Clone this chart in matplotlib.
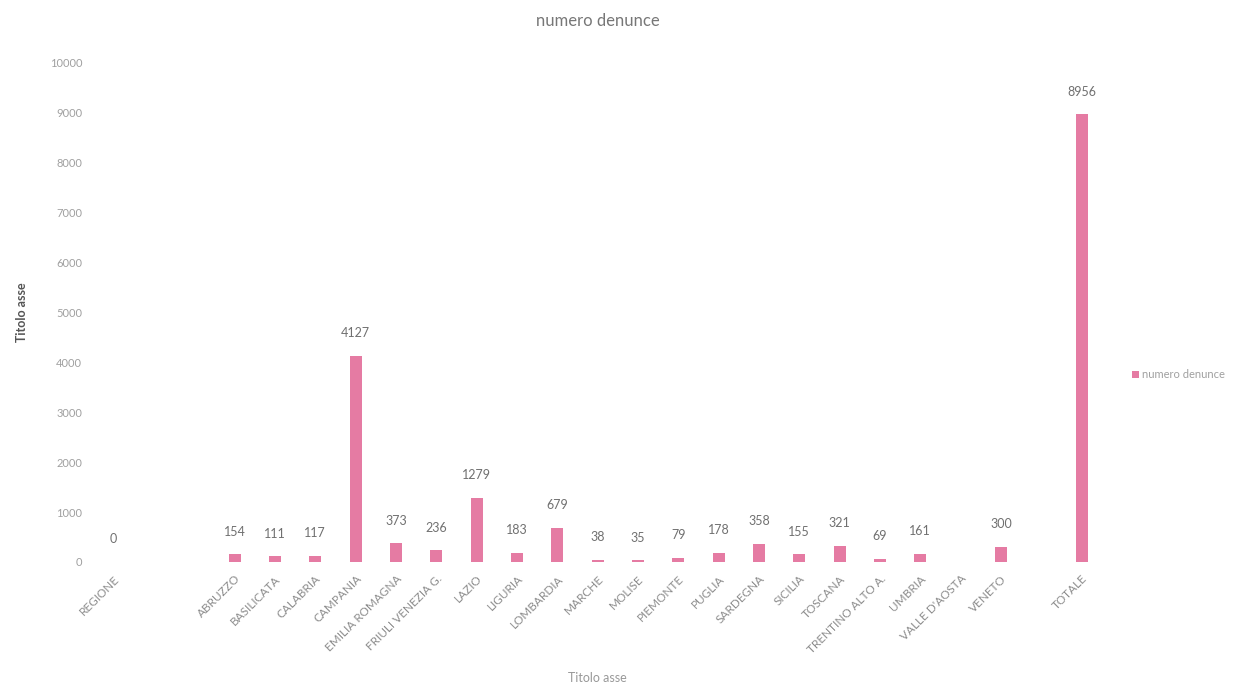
import numpy as np
import matplotlib.pyplot as plt

plt.rcParams['font.family'] = ['Lato', 'DejaVu Sans']

# categories as on the axis (blank slots kept as empty labels)
regioni = ["REGIONE", "", "", "ABRUZZO", "BASILICATA", "CALABRIA", "CAMPANIA",
           "EMILIA ROMAGNA", "FRIULI VENEZIA G.", "LAZIO", "LIGURIA", "LOMBARDIA",
           "MARCHE", "MOLISE", "PIEMONTE", "PUGLIA", "SARDEGNA", "SICILIA",
           "TOSCANA", "TRENTINO ALTO A.", "UMBRIA", "VALLE D'AOSTA", "VENETO",
           "", "TOTALE"]
denunce = [0, None, None, 154, 111, 117, 4127,
           373, 236, 1279, 183, 679,
           38, 35, 79, 178, 358, 155,
           321, 69, 161, None, 300,
           None, 8956]

yticks = [0, 1000, 2000, 3000, 4000, 5000, 6000, 7000, 8000, 9000, 10000]

PINK = "#e57ba3"
GREY = "#8c8c8c"

x = np.arange(len(regioni))
vals = np.array([np.nan if v is None else v for v in denunce], dtype=float)

fig = plt.figure(figsize=(12.45, 6.99), dpi=100)
ax = fig.add_axes([0.075, 0.196, 0.81, 0.715])

bars = ax.bar(x, np.nan_to_num(vals), width=0.3, color=PINK, label="numero denunce")

for xi, v in zip(x, denunce):
    if v is None:
        continue
    ax.annotate(str(v), (xi, v), xytext=(0, 12), textcoords="offset points",
                ha="center", va="bottom", fontsize=9, color="#707070")

ax.set_xlim(-0.5, len(regioni) - 0.5)
ax.set_ylim(0, 10000)
ax.set_yticks(yticks)
ax.set_yticklabels([str(t) for t in yticks], fontsize=8, color="#a0a0a0")
ax.set_xticks(x)
ax.set_xticklabels(regioni, rotation=45, ha="right", rotation_mode="anchor",
                   fontsize=8.5, color=GREY)
ax.tick_params(length=0, pad=8)
for s in ax.spines.values():
    s.set_visible(False)

ax.set_title("numero denunce", fontsize=12, color="#777777", pad=26)
ax.set_xlabel("Titolo asse", fontsize=9, color="#999999", labelpad=12)
ax.set_ylabel("Titolo asse", fontsize=9, color="#555555", fontweight="bold", labelpad=16)

ax.legend(loc="center left", bbox_to_anchor=(1.02, 0.375), frameon=False,
          fontsize=8, labelcolor="#a0a0a0", handlelength=0.6, handleheight=0.6,
          handletextpad=0.3)

fig.savefig("out.png")
